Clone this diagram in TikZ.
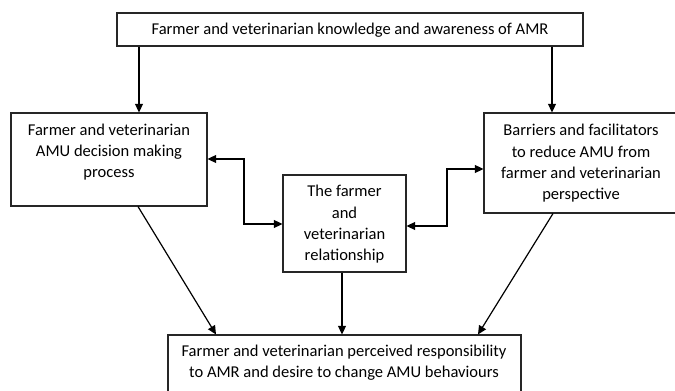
\documentclass[tikz,border=0pt]{standalone}
\usepackage{fontspec}
\setmainfont{Carlito}
\usetikzlibrary{arrows.meta,fit}
\begin{document}
\begin{tikzpicture}[x=0.75pt,y=-0.75pt,
  box/.style={draw=black!85,line width=0.8pt,inner sep=0pt,fill=white},
  txt/.style={align=center,anchor=base,inner sep=0pt,font=\fontsize{12.4}{16}\selectfont},
  arr/.style={line width=0.9pt,-{Triangle[length=6.5pt,width=6pt]}},
  darr/.style={line width=0.9pt,{Triangle[length=6.5pt,width=6pt]}-{Triangle[length=6.5pt,width=6pt]}}]
\useasboundingbox (0,0) rectangle (675,391);
\clip (0,0) rectangle (675,391);
\node[box,fit={(117,13) (583,46)}] (T) {};
\node[box,fit={(11,113) (207,206)}] (L) {};
\node[box,fit={(283,175) (406,272)}] (M) {};
\node[box,fit={(484,113) (682,213)}] (R) {};
\node[box,fit={(168,335) (521,400)}] (B) {};
\node[txt] (Tt) at (350,35) {Farmer and veterinarian knowledge and awareness of AMR};
\node[txt] (Lt) at (109,177.7) {Farmer and veterinarian\\AMU decision making\\process};
\node[txt] (Mt) at (344.5,261) {The farmer\\and\\veterinarian\\relationship};
\node[txt] (Rt) at (581,200) {Barriers and facilitators\\to reduce AMU from\\farmer and veterinarian\\perspective};
\node[txt] (Bt) at (344,378) {Farmer and veterinarian perceived responsibility\\to AMR and desire to change AMU behaviours};
\draw[arr] (T.south -| 139,0) -- (L.north -| 139,0);
\draw[arr] (T.south -| 552,0) -- (R.north -| 552,0);
\draw[darr] (L.east |- 0,159) -- (244,159) |- (M.west |- 0,224);
\draw[darr] (M.east |- 0,226) -- (447,226) |- (R.west |- 0,169);
\draw[arr] (L.south -| 138,0) -- (B.north -| 216,0);
\draw[arr] (M.south -| 342,0) -- (B.north -| 342,0);
\draw[arr] (R.south -| 553,0) -- (B.north -| 478,0);
\end{tikzpicture}
\end{document}
